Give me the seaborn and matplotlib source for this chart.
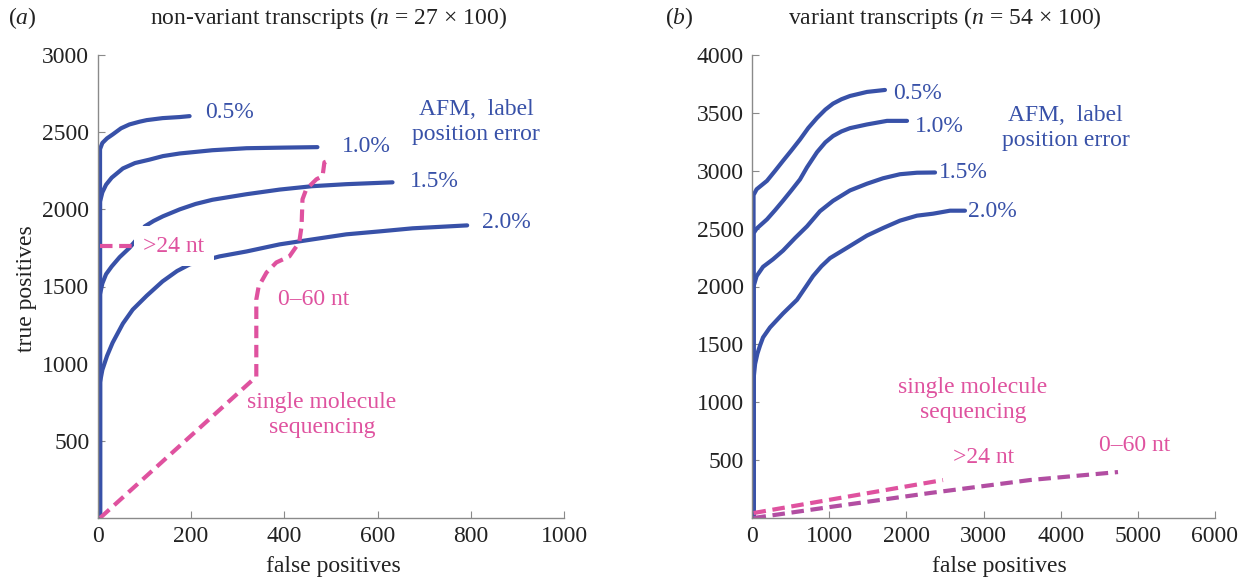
import matplotlib
matplotlib.use("Agg")
import matplotlib.pyplot as plt
import seaborn as sns
import pandas as pd

# ---------------- data ----------------
# (a) non-variant transcripts
L05_x = [5, 5, 10, 20, 32, 50, 68, 90, 105, 139, 176, 197]
L05_y = [0, 2390, 2430, 2460, 2485, 2525, 2550, 2568, 2578, 2591, 2598, 2604]
L10_x = [5, 5, 10, 18, 30, 54, 80, 111, 140, 176, 246, 319, 400, 471]
L10_y = [0, 2050, 2110, 2160, 2205, 2265, 2300, 2322, 2345, 2362, 2383, 2396, 2400, 2403]
L15_x = [5, 5, 10, 18, 30, 47, 68, 85, 101, 120, 140, 176, 210, 246, 319, 390, 460, 533, 632]
L15_y = [0, 1450, 1520, 1580, 1630, 1690, 1750, 1810, 1890, 1925, 1955, 2000, 2035, 2062, 2098, 2128, 2150, 2163, 2175]
L20_x = [5, 5, 10, 20, 32, 54, 75, 105, 139, 170, 197, 261, 319, 390, 460, 533, 604, 675, 792]
L20_y = [0, 880, 960, 1050, 1136, 1260, 1350, 1440, 1533, 1600, 1643, 1695, 1727, 1773, 1805, 1838, 1857, 1877, 1896]
SM60L_x = [5, 340, 340, 345, 362, 383, 411, 432, 437, 439, 447, 469, 482, 486, 492]
SM60L_y = [0, 916, 1416, 1500, 1591, 1656, 1695, 1786, 1890, 2065, 2130, 2195, 2215, 2305, 2312]
SM24L_x = [5, 100]
SM24L_y = [1760, 1760]

# (b) variant transcripts
R05_x = [20, 20, 60, 194, 300, 402, 510, 622, 730, 842, 950, 1050, 1160, 1270, 1490, 1723]
R05_y = [0, 2790, 2840, 2913, 3000, 3086, 3175, 3270, 3370, 3456, 3528, 3580, 3618, 3646, 3681, 3698]
R10_x = [20, 20, 60, 194, 300, 402, 510, 622, 713, 842, 950, 1050, 1160, 1270, 1490, 1750, 2009]
R10_y = [0, 2460, 2500, 2580, 2660, 2741, 2830, 2925, 3030, 3160, 3245, 3300, 3340, 3368, 3400, 3431, 3431]
R15_x = [20, 20, 60, 143, 272, 402, 560, 713, 880, 1050, 1270, 1490, 1698, 1918, 2138, 2372]
R15_y = [0, 2000, 2090, 2170, 2235, 2310, 2420, 2520, 2650, 2740, 2830, 2888, 2935, 2970, 2983, 2985]
R20_x = [20, 20, 40, 70, 104, 143, 233, 402, 583, 700, 791, 900, 1011, 1270, 1490, 1698, 1918, 2138, 2346, 2566, 2760]
R20_y = [0, 1200, 1330, 1420, 1490, 1560, 1646, 1767, 1885, 2000, 2090, 2175, 2245, 2350, 2440, 2505, 2569, 2612, 2629, 2655, 2655]
SM24R_x = [20, 2475]
SM24R_y = [43, 328]
SM60R_x = [20, 1011, 2307, 3603, 4743]
SM60R_y = [0, 95, 216, 328, 397]

LEFT_XTICKS = [0, 200, 400, 600, 800, 1000]
LEFT_YTICKS = [500, 1000, 1500, 2000, 2500, 3000]
RIGHT_XTICKS = [0, 1000, 2000, 3000, 4000, 5000, 6000]
RIGHT_YTICKS = [500, 1000, 1500, 2000, 2500, 3000, 3500, 4000]
PCT_LABELS = ["0.5%", "1.0%", "1.5%", "2.0%"]

# ---------------- style ----------------
sns.set_theme(style="ticks")
plt.rcParams["font.family"] = ["Liberation Serif", "DejaVu Serif"]
plt.rcParams["mathtext.fontset"] = "custom"
plt.rcParams["mathtext.rm"] = "Liberation Serif"
plt.rcParams["mathtext.it"] = "Liberation Serif:italic"

BLUE = "#3851a8"
PINK = "#df529f"
PURPLE = "#b24ea2"
GREY = "#8a8a8a"
TXT = "#222222"
FS = 17

fig = plt.figure(figsize=(12.5, 5.8), dpi=100)
axL = fig.add_axes([97.7 / 1250, 62 / 580, 466.5 / 1250, 463 / 580])
axR = fig.add_axes([752 / 1250, 62 / 580, 463 / 1250, 463 / 580])


def draw(ax, x, y, color, dashed=False, lw=3.0):
    df = pd.DataFrame({"x": x, "y": y})
    sns.lineplot(data=df, x="x", y="y", ax=ax, sort=False, estimator=None,
                 color=color, lw=lw, zorder=2)
    line = ax.lines[-1]
    line.set_solid_joinstyle("round")
    if dashed:
        line.set_dashes([3, 1.6])
        line.set_dash_capstyle("butt")
    return line


# left panel
for xs, ys in [(L05_x, L05_y), (L10_x, L10_y), (L15_x, L15_y), (L20_x, L20_y)]:
    draw(axL, xs, ys, BLUE)
draw(axL, SM60L_x, SM60L_y, PINK, dashed=True)
draw(axL, SM24L_x, SM24L_y, PINK, dashed=True)

# right panel
for xs, ys in [(R05_x, R05_y), (R10_x, R10_y), (R15_x, R15_y), (R20_x, R20_y)]:
    draw(axR, xs, ys, BLUE)
draw(axR, SM24R_x, SM24R_y, PINK, dashed=True)
draw(axR, SM60R_x, SM60R_y, PURPLE, dashed=True)

for ax, xt, yt, xl, yl in [(axL, LEFT_XTICKS, LEFT_YTICKS, (0, 1000), (0, 3000)),
                           (axR, RIGHT_XTICKS, RIGHT_YTICKS, (0, 6000), (0, 4000))]:
    ax.set_xlim(*xl)
    ax.set_ylim(*yl)
    ax.set_xticks(xt)
    ax.set_yticks(yt)
    ax.set_xticklabels([str(v) for v in xt])
    ax.set_yticklabels([str(v) for v in yt])
    ax.tick_params(direction="in", length=5, width=0.8, colors=GREY,
                   labelcolor=TXT, labelsize=FS, pad=6)
    for s in ["top", "right"]:
        ax.spines[s].set_visible(False)
    for s in ["left", "bottom"]:
        ax.spines[s].set_color(GREY)
        ax.spines[s].set_linewidth(1.0)
    ax.set_xlabel("false positives", fontsize=FS, color=TXT)
    ax.set_ylabel("")
    ax.set_facecolor("white")

axL.xaxis.set_label_coords(0.505, -0.082)
axR.xaxis.set_label_coords(0.535, -0.082)
axL.set_ylabel("true positives", fontsize=FS, color=TXT)
axL.yaxis.set_label_coords(-0.131, 0.495)

# annotations left
pctL = [(230, 2630), (524, 2409), (669, 2182), (823, 1916)]
for (x, y), t in zip(pctL, PCT_LABELS):
    axL.text(x, y, t, color=BLUE, fontsize=FS, ha="left", va="center")
axL.text(811, 2565, "AFM,  label\nposition error", color=BLUE, fontsize=FS,
         ha="center", va="center", linespacing=1.25)
axL.text(97, 1760, ">24 nt", color=PINK, fontsize=FS, ha="left", va="center",
         zorder=5, bbox=dict(boxstyle="square,pad=0.4", fc="white", ec="none"))
axL.text(386, 1416, "0\u201360 nt", color=PINK, fontsize=FS, ha="left", va="center")
axL.text(481, 669, "single molecule\nsequencing", color=PINK, fontsize=FS,
         ha="center", va="center", linespacing=1.25)

# annotations right
pctR = [(1827, 3664), (2112, 3379), (2422, 2983), (2799, 2646)]
for (x, y), t in zip(pctR, PCT_LABELS):
    axR.text(x, y, t, color=BLUE, fontsize=FS, ha="left", va="center")
axR.text(4066, 3370, "AFM,  label\nposition error", color=BLUE, fontsize=FS,
         ha="center", va="center", linespacing=1.25)
axR.text(2862, 1017, "single molecule\nsequencing", color=PINK, fontsize=FS,
         ha="center", va="center", linespacing=1.25)
axR.text(2603, 526, ">24 nt", color=PINK, fontsize=FS, ha="left", va="center")
axR.text(4501, 629, "0\u201360 nt", color=PINK, fontsize=FS, ha="left", va="center")

# titles and panel letters
fig.text(329 / 1250, 1 - 18 / 580, r"non-variant transcripts ($n$ = 27 × 100)",
         fontsize=FS, ha="center", va="center", color=TXT)
fig.text(945 / 1250, 1 - 18 / 580, r"variant transcripts ($n$ = 54 × 100)",
         fontsize=FS, ha="center", va="center", color=TXT)
fig.text(8 / 1250, 1 - 18 / 580, r"($a$)", fontsize=FS, ha="left", va="center", color=TXT)
fig.text(665 / 1250, 1 - 18 / 580, r"($b$)", fontsize=FS, ha="left", va="center", color=TXT)

fig.savefig("out.png", dpi=100, facecolor="white")
